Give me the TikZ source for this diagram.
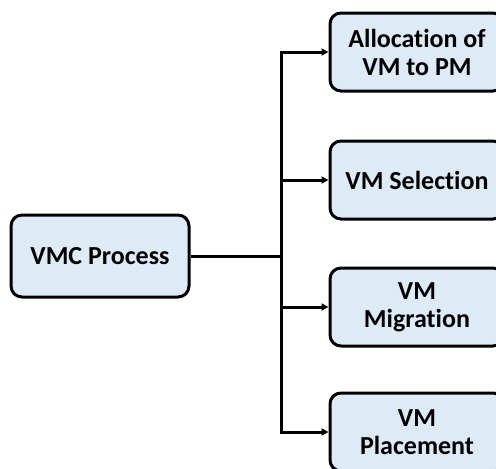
\documentclass[tikz,border=0pt]{standalone}
\usepackage{fontspec}
\setmainfont{Carlito}[Ligatures=NoCommon]
\usetikzlibrary{arrows.meta}
\definecolor{boxfill}{HTML}{DEEBF7}
\tikzset{
  procbox/.style={draw=black, line width=3pt, rounded corners=11pt, fill=boxfill,
    align=center, inner sep=0pt, font=\fontsize{26}{28}\selectfont\bfseries},
  link/.style={line width=3pt, draw=black},
  arr/.style={link, -{Triangle[length=7pt,width=7pt]}}
}
\begin{document}
\begin{tikzpicture}[x=1pt,y=-1pt]
\useasboundingbox (0,0) rectangle (496,469);
\node[procbox, minimum width=178pt, minimum height=82pt] (vmc) at (100,256) {VMC Process};
\node[procbox, minimum width=174pt, minimum height=78pt] (b1) at (417,52) {Allocation of\\VM to PM};
\node[procbox, minimum width=174pt, minimum height=78pt] (b2) at (417,180) {VM Selection};
\node[procbox, minimum width=174pt, minimum height=78pt] (b3) at (417,307) {VM\\Migration};
\node[procbox, minimum width=174pt, minimum height=78pt] (b4) at (417,432) {VM\\Placement};
\coordinate (j) at (281,256);
\draw[link] (vmc.east) -- (j);
\draw[arr] (j) |- (b1.west);
\draw[arr] (j) |- (b2.west);
\draw[arr] (j) |- (b3.west);
\draw[arr] (j) |- (b4.west);
\end{tikzpicture}
\end{document}
